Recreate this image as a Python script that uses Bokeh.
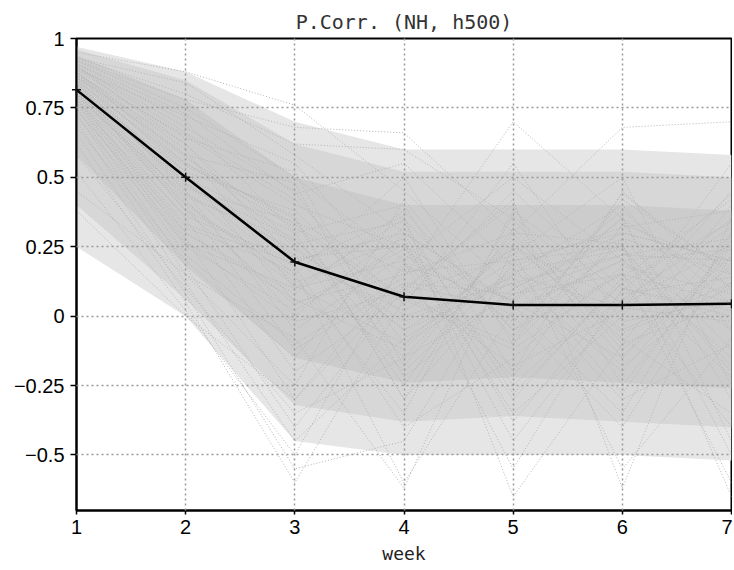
from bokeh.plotting import figure
from bokeh.models import Range1d, Title
from bokeh.embed import file_html
from bokeh.resources import INLINE

weeks = [1, 2, 3, 4, 5, 6, 7]
y_ticks = [-0.5, -0.25, 0, 0.25, 0.5, 0.75, 1]
y_tick_labels = ["\u22120.5", "\u22120.25", "0", "0.25", "0.5", "0.75", "1"]

# black line: mean pattern correlation per week
mean_corr = [0.815, 0.50, 0.195, 0.07, 0.04, 0.04, 0.045]

# envelopes of the densely overlapping gray member lines
outer_upper = [0.97, 0.88, 0.70, 0.60, 0.60, 0.60, 0.58]
outer_lower = [0.25, 0.00, -0.45, -0.50, -0.50, -0.50, -0.52]
dense_upper = [0.96, 0.85, 0.62, 0.52, 0.52, 0.52, 0.50]
dense_lower = [0.40, 0.06, -0.32, -0.38, -0.36, -0.38, -0.40]
core_upper = [0.94, 0.78, 0.50, 0.40, 0.40, 0.40, 0.38]
core_lower = [0.58, 0.18, -0.15, -0.24, -0.22, -0.24, -0.26]

# individual member correlations (gray dotted lines), one array per week
w1 = [0.95, 0.93, 0.92, 0.91, 0.90, 0.90, 0.89, 0.88, 0.88, 0.87,
      0.87, 0.86, 0.86, 0.85, 0.85, 0.84, 0.84, 0.83, 0.83, 0.82,
      0.82, 0.81, 0.81, 0.80, 0.80, 0.79, 0.79, 0.78, 0.78, 0.77,
      0.77, 0.76, 0.75, 0.74, 0.73, 0.72, 0.70, 0.68, 0.66, 0.62,
      0.92, 0.90, 0.88, 0.86, 0.84, 0.85, 0.83, 0.80, 0.78, 0.75,
      0.58, 0.52, 0.45, 0.38, 0.93, 0.91, 0.89, 0.87, 0.82, 0.80]
w2 = [0.88, 0.80, 0.75, 0.70, 0.68, 0.62, 0.72, 0.60, 0.55, 0.65,
      0.52, 0.58, 0.48, 0.55, 0.45, 0.50, 0.42, 0.47, 0.40, 0.52,
      0.38, 0.45, 0.35, 0.50, 0.30, 0.44, 0.28, 0.40, 0.25, 0.36,
      0.22, 0.32, 0.18, 0.30, 0.15, 0.26, 0.12, 0.20, 0.08, 0.05,
      0.78, 0.66, 0.58, 0.62, 0.46, 0.54, 0.38, 0.43, 0.33, 0.27,
      0.10, 0.02, 0.15, 0.00, 0.84, 0.73, 0.64, 0.57, 0.48, 0.41]
w3 = [0.76, 0.62, 0.50, 0.30, 0.45, 0.20, 0.55, 0.10, 0.35, 0.40,
      0.05, 0.25, 0.15, 0.32, -0.05, 0.22, 0.00, 0.28, -0.12, 0.38,
      0.18, 0.12, -0.20, 0.30, 0.08, 0.24, -0.30, 0.14, 0.02, 0.20,
      -0.10, 0.16, -0.40, 0.06, -0.25, 0.10, -0.45, -0.15, -0.55, -0.60,
      0.68, 0.42, 0.48, 0.26, 0.34, 0.36, 0.04, 0.27, 0.19, -0.02,
      -0.35, -0.50, -0.08, -0.30, 0.58, 0.44, 0.52, 0.33, 0.21, 0.11]
w4 = [0.45, 0.60, 0.20, 0.40, -0.10, 0.30, 0.10, 0.35, -0.30, 0.25,
      0.15, -0.05, 0.50, 0.05, 0.22, -0.20, 0.32, -0.15, 0.12, 0.00,
      -0.40, 0.28, 0.08, -0.25, 0.38, -0.02, 0.18, -0.35, 0.26, 0.02,
      0.14, -0.60, 0.10, -0.12, 0.42, 0.20, -0.08, 0.30, -0.45, 0.06,
      0.66, 0.04, -0.22, 0.34, 0.16, -0.30, 0.24, -0.05, 0.36, 0.09,
      -0.15, 0.20, -0.62, 0.11, 0.30, 0.55, -0.18, 0.07, 0.25, -0.10]
w5 = [0.10, 0.35, 0.50, -0.20, 0.25, 0.05, 0.40, -0.05, 0.15, -0.35,
      0.30, 0.20, -0.10, 0.45, 0.00, 0.18, -0.25, 0.28, 0.08, 0.12,
      -0.15, -0.45, 0.22, 0.32, -0.05, 0.14, 0.06, 0.38, -0.30, 0.24,
      0.70, 0.02, -0.18, 0.26, -0.08, -0.55, 0.16, 0.04, 0.20, -0.12,
      0.30, 0.55, 0.10, -0.28, 0.20, 0.36, -0.02, 0.12, -0.65, 0.42,
      0.08, -0.22, 0.25, 0.03, -0.38, 0.18, 0.30, -0.10, 0.05, 0.15]
w6 = [0.30, -0.10, 0.20, 0.45, 0.05, 0.35, -0.25, 0.15, 0.40, 0.00,
      -0.15, 0.25, 0.28, 0.10, -0.40, 0.32, 0.12, -0.05, 0.22, -0.30,
      0.18, 0.06, 0.50, -0.12, 0.26, -0.20, 0.38, 0.08, 0.14, -0.55,
      0.35, 0.20, 0.02, -0.08, 0.42, 0.10, 0.24, -0.35, 0.30, 0.16,
      0.68, -0.02, 0.28, 0.12, -0.18, 0.04, 0.36, 0.22, -0.10, -0.62,
      0.15, 0.33, -0.06, 0.20, 0.09, -0.28, 0.26, 0.44, -0.15, 0.03]
w7 = [0.20, 0.40, -0.15, 0.10, 0.35, -0.30, 0.25, 0.05, -0.05, 0.45,
      0.30, -0.20, 0.15, 0.00, 0.22, 0.38, -0.40, 0.12, 0.28, -0.10,
      0.08, 0.32, -0.25, 0.18, -0.50, 0.26, 0.04, 0.14, 0.42, -0.08,
      0.10, 0.24, 0.55, -0.35, 0.16, 0.02, -0.18, 0.30, 0.20, -0.60,
      0.70, 0.06, -0.12, 0.34, 0.12, 0.26, -0.45, 0.20, 0.05, 0.36,
      -0.22, 0.18, 0.10, -0.05, 0.44, 0.28, -0.65, 0.15, 0.22, -0.02]

members_xs = [weeks for _ in w1]
members_ys = [list(v) for v in zip(w1, w2, w3, w4, w5, w6, w7)]

p = figure(width=732, height=566, output_backend="svg", toolbar_location=None,
           x_range=Range1d(1, 7), y_range=Range1d(-0.7, 1.0),
           min_border_left=76, min_border_right=1, min_border_top=38,
           min_border_bottom=54, background_fill_color="white",
           border_fill_color="white")

title = Title(text="P.Corr. (NH, h500)", align="center",
              text_font="DejaVu Sans Mono", text_font_size="20px",
              text_font_style="normal", text_color="#333333", standoff=10)
p.add_layout(title, "above")

# gray member spread
p.varea(x=weeks, y1=outer_lower, y2=outer_upper, fill_color="#e6e6e6")
p.varea(x=weeks, y1=dense_lower, y2=dense_upper, fill_color="#d7d7d7")
p.varea(x=weeks, y1=core_lower, y2=core_upper, fill_color="#cccccc")
p.multi_line(xs=members_xs, ys=members_ys, line_color="#b4b4b4",
             line_width=1, line_dash="1 2")

# mean line
ml = p.line(weeks, mean_corr, line_color="black", line_width=2.5)
ml.level = "overlay"
mk = p.scatter(weeks, mean_corr, marker="cross", size=9, line_color="#111111",
               line_width=1.5)
mk.level = "overlay"

# grid
for g in (p.xgrid, p.ygrid):
    g.grid_line_color = "#999999"
    g.grid_line_dash = "2 3"
    g.grid_line_width = 1.5
    g.level = "guide"

p.outline_line_color = "black"
p.outline_line_width = 2

p.xaxis.ticker = weeks
p.yaxis.ticker = y_ticks
p.yaxis.major_label_overrides = {t: s for t, s in zip(y_ticks, y_tick_labels)}
p.xaxis.axis_label = "week"
p.xaxis.axis_label_text_font = "DejaVu Sans Mono"
p.xaxis.axis_label_text_font_size = "18px"
p.xaxis.axis_label_text_font_style = "normal"
p.xaxis.axis_label_text_color = "#222222"
p.xaxis.axis_label_standoff = 6

for ax in (p.xaxis, p.yaxis):
    ax.axis_line_color = "black"
    ax.axis_line_width = 2
    ax.major_tick_line_color = "black"
    ax.major_tick_line_width = 1.5
    ax.major_tick_in = 0
    ax.minor_tick_line_color = None
    ax.major_label_text_font = "Liberation Sans"
    ax.major_label_text_font_size = "20px"
    ax.major_label_text_color = "black"

p.yaxis.major_tick_out = 6
p.yaxis.major_label_standoff = 6
p.xaxis.major_tick_out = 4
p.xaxis.major_label_standoff = 5

open("out.html", "w").write(file_html(p, INLINE))
